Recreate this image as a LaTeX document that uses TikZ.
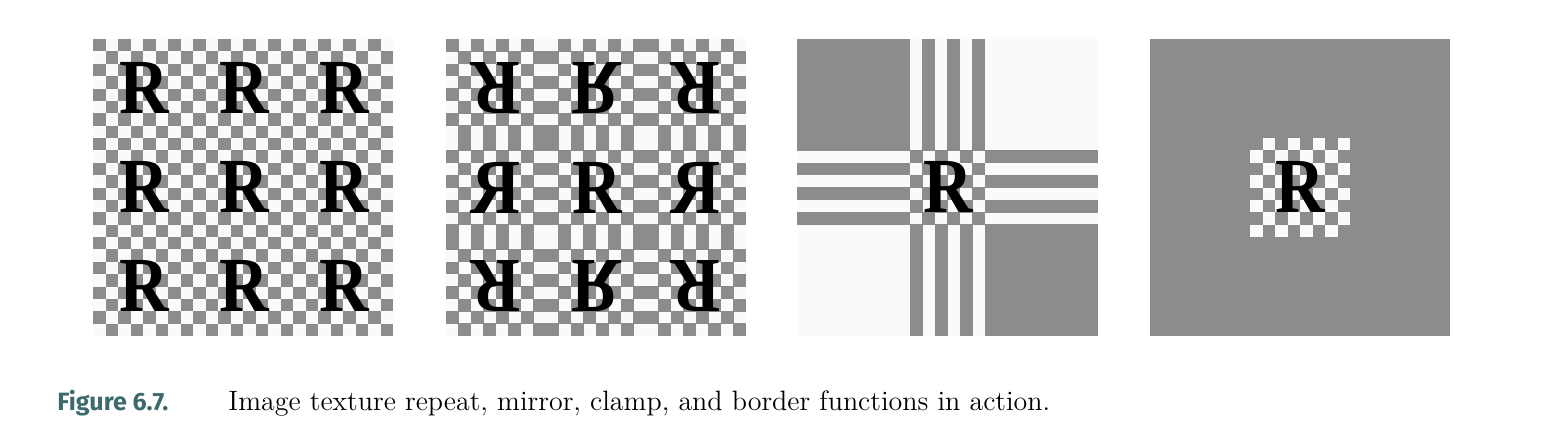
\documentclass[tikz,border=0pt]{standalone}
\usepackage{fontspec}
\newfontfamily\rfont{Liberation Serif}
\newfontfamily\capsans{Fira Sans}
\definecolor{chkgray}{HTML}{8C8C8C}
\definecolor{chkwhite}{HTML}{FAFAFA}
\definecolor{capteal}{HTML}{3D6A6C}
\newcommand\Rglyph{\scalebox{0.88}[1]{R}}
\newcommand\RglyphH{\reflectbox{\Rglyph}}
\newcommand\RglyphV{\scalebox{1}[-1]{\Rglyph}}
\newcommand\RglyphHV{\scalebox{-1}[-1]{\Rglyph}}
\tikzset{
  rglyph/.style={inner sep=0pt, text=black, font=\rfont\bfseries\fontsize{39}{39}\selectfont},
  graycell/.style={fill=chkgray},
  whitecell/.style={fill=chkwhite},
  captext/.style={anchor=base west, inner sep=0pt},
}
\begin{document}
\begin{tikzpicture}[x=0.5pt,y=-0.5pt]
\useasboundingbox (0,0) rectangle (1552,428);
\fill[white] (0,0) rectangle (1552,428);
% ---------- panel 1: repeat ----------
\fill[whitecell] (93,39) rectangle ++(300,297);
\foreach \i in {0,...,23}{\foreach \j in {0,...,23}{
  \pgfmathtruncatemacro\p{mod(\i+\j,2)}
  \ifnum\p=0 \fill[graycell] ({93+12.5*\i},{39+12.375*\j}) rectangle ++(12.5,12.375);\fi
}}
\foreach \a in {0,1,2}{\foreach \b in {0,1,2}{
  \node[rglyph] (rep\a\b) at ({144+100*\a},{88+99*\b}) {\Rglyph};
}}
% ---------- panel 2: mirror ----------
\fill[whitecell] (446,39) rectangle ++(300,297);
\foreach \i in {0,...,23}{\foreach \j in {0,...,23}{
  \pgfmathtruncatemacro\p{mod(\i+\j+2-mod(floor(\i/8),2)-mod(floor(\j/8),2),2)}
  \ifnum\p=0 \fill[graycell] ({446+12.5*\i-0.25},{39+12.375*\j-0.25}) rectangle ++(13,12.875);\fi
}}
\node[rglyph] (mir00) at (496,88) {\RglyphHV};
\node[rglyph] (mir10) at (596,88) {\RglyphV};
\node[rglyph] (mir20) at (696,88) {\RglyphHV};
\node[rglyph] (mir01) at (496,188) {\RglyphH};
\node[rglyph] (mir11) at (597,188) {\Rglyph};
\node[rglyph] (mir21) at (696,188) {\RglyphH};
\node[rglyph] (mir02) at (496,286) {\RglyphHV};
\node[rglyph] (mir12) at (596,286) {\RglyphV};
\node[rglyph] (mir22) at (696,286) {\RglyphHV};
% ---------- panel 3: clamp ----------
\fill[whitecell] (797.5,39) rectangle ++(300,297);
\foreach \i in {0,...,23}{\foreach \j in {0,...,23}{
  \pgfmathtruncatemacro\c{min(max(\i-8,0),7)}
  \pgfmathtruncatemacro\r{min(max(\j-8,0),7)}
  \pgfmathtruncatemacro\p{mod(\c+\r,2)}
  \ifnum\p=0 \fill[graycell] ({797.5+12.5*\i-0.25},{39+12.375*\j-0.25}) rectangle ++(13,12.875);\fi
}}
\node[rglyph] (clamp) at (948,187) {\Rglyph};
% ---------- panel 4: border ----------
\fill[graycell] (1150,39) rectangle ++(300,297);
\foreach \i in {8,...,15}{\foreach \j in {8,...,15}{
  \pgfmathtruncatemacro\p{mod(\i+\j,2)}
  \ifnum\p=1 \fill[whitecell] ({1150+12.5*\i},{39+12.375*\j}) rectangle ++(12.5,12.375);\fi
}}
\node[rglyph] (border) at (1300,187) {\Rglyph};
% ---------- caption ----------
\node[captext, text=capteal, font=\capsans\bfseries\fontsize{12.5}{12.5}\selectfont] (figlbl) at (57,410) {Figure 6.7.};
\node[captext, font=\fontsize{14}{14}\selectfont] (captxt) at (228,410) {Image texture repeat, mirror, clamp, and border functions in action.};
\end{tikzpicture}
\end{document}
